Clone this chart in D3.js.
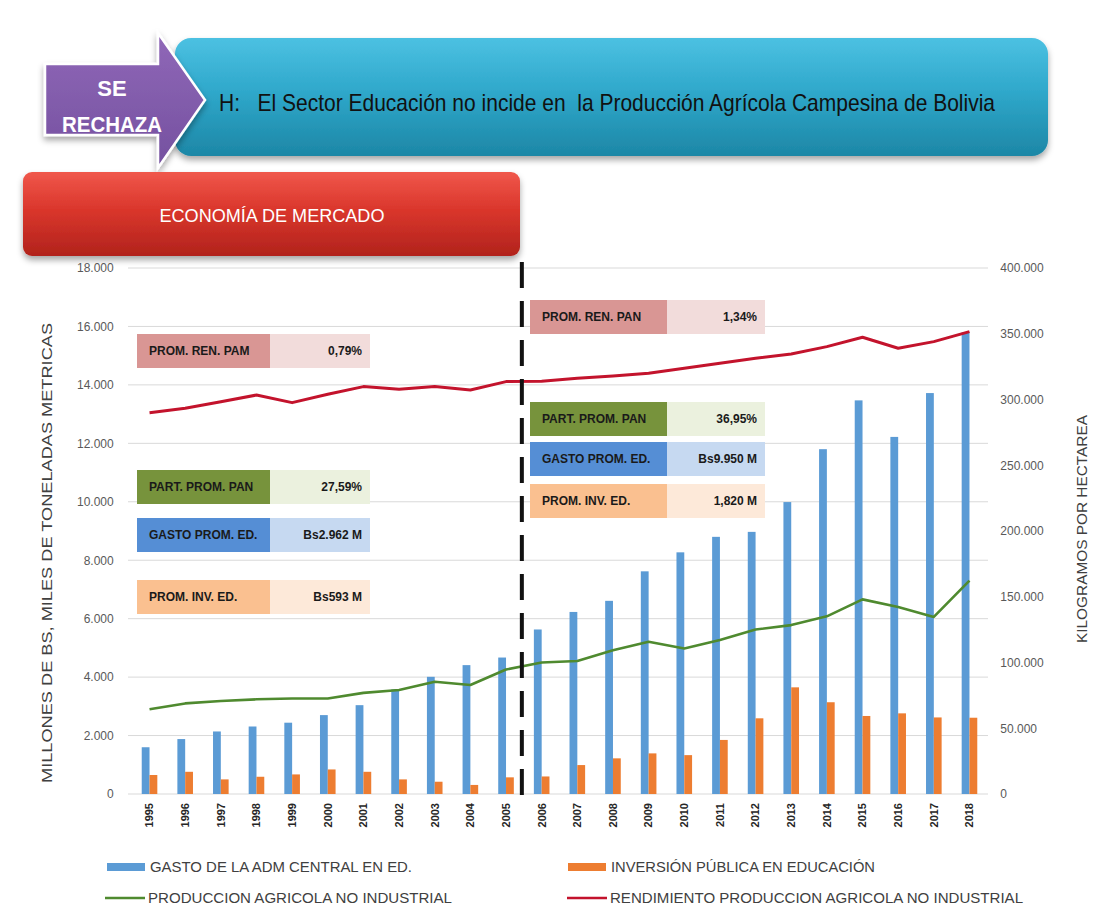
<!DOCTYPE html>
<html>
<head>
<meta charset="utf-8">
<script src="https://cdn.jsdelivr.net/npm/d3@7"></script>
<style>
  html, body { margin: 0; padding: 0; background: #ffffff; }
  svg { display: block; }
</style>
</head>
<body>
<svg id="chart" width="1107" height="918"></svg>
<script>
// ---------------- DATA ----------------
const years = ["1995","1996","1997","1998","1999","2000","2001","2002","2003","2004","2005","2006",
               "2007","2008","2009","2010","2011","2012","2013","2014","2015","2016","2017","2018"];
// Millones de Bs (eje izquierdo)
const gastoEducacion = [1600,1880,2140,2310,2440,2700,3040,3580,4010,4410,4670,5630,
                        6230,6610,7620,8270,8800,8970,9990,11800,13470,12220,13720,15800];
const inversionEducacion = [650,760,500,590,670,840,760,500,420,310,570,600,
                            990,1220,1390,1330,1850,2590,3650,3140,2670,2760,2620,2610];
// Miles de toneladas métricas (eje izquierdo)
const produccionAgricola = [2900,3100,3180,3240,3270,3270,3460,3560,3840,3730,4260,4500,
                            4550,4920,5210,4980,5270,5630,5780,6080,6660,6400,6060,7300];
// Kilogramos por hectárea (eje derecho)
const rendimientoAgricola = [290000,293300,298300,303400,297600,304000,309800,307800,309800,307200,313600,313800,
                             316100,317900,319900,323700,327500,331300,334600,340200,347300,339000,344000,351600];

const leftTicks = [0,2000,4000,6000,8000,10000,12000,14000,16000,18000];
const rightTicks = [0,50000,100000,150000,200000,250000,300000,350000,400000];

const seriesNames = ["GASTO DE LA ADM CENTRAL EN ED.", "INVERSIÓN PÚBLICA EN EDUCACIÓN",
                     "PRODUCCION AGRICOLA NO INDUSTRIAL", "RENDIMIENTO PRODUCCION AGRICOLA NO INDUSTRIAL"];

const statLabelsLeft  = ["PROM. REN. PAM", "PART. PROM. PAN", "GASTO PROM. ED.", "PROM. INV. ED."];
const statValuesLeft  = ["0,79%", "27,59%", "Bs2.962 M", "Bs593 M"];
const statLabelsRight = ["PROM. REN. PAN", "PART. PROM. PAN", "GASTO PROM. ED.", "PROM. INV. ED."];
const statValuesRight = ["1,34%", "36,95%", "Bs9.950 M", "1,820 M"];

const titleText = "H:   El Sector Educación no incide en  la Producción Agrícola Campesina de Bolivia";
const verdictLines = ["SE", "RECHAZA"];
const periodText = "ECONOMÍA DE MERCADO";
const leftAxisTitle = "MILLONES DE BS, MILES DE TONELADAS METRICAS";
const rightAxisTitle = "KILOGRAMOS POR HECTAREA";

// ---------------- STYLE ----------------
const C = {
  blue: "#5b9bd5", orange: "#ed7d31", green: "#4f8a2f", red: "#c3132c",
  grid: "#d9d9d9", tick: "#595959", axisTitle: "#404040"
};
const statColors = [
  { lab: "#d99694", val: "#f2dcdb" },
  { lab: "#77933c", val: "#ebf1de" },
  { lab: "#558ed5", val: "#c6d9f1" },
  { lab: "#fac090", val: "#fde9d9" }
];
const narrow = "'Liberation Sans Narrow', 'Liberation Sans', Arial, sans-serif";
const sans = "'Liberation Sans', Arial, sans-serif";

const svg = d3.select("#chart");
const defs = svg.append("defs");

function vGrad(id, stops) {
  const g = defs.append("linearGradient").attr("id", id).attr("x1", 0).attr("y1", 0).attr("x2", 0).attr("y2", 1);
  stops.forEach(s => g.append("stop").attr("offset", s[0]).attr("stop-color", s[1]));
}
vGrad("gCyan", [["0%", "#4cc1e2"], ["45%", "#2fa8cb"], ["100%", "#1d87a6"]]);
vGrad("gRed", [["0%", "#f0574b"], ["45%", "#da362c"], ["100%", "#b1231c"]]);
vGrad("gPurple", [["0%", "#9068b8"], ["100%", "#74509f"]]);

const shadow = defs.append("filter").attr("id", "shadow").attr("x", "-5%").attr("y", "-20%").attr("width", "110%").attr("height", "150%");
shadow.append("feDropShadow").attr("dx", 0).attr("dy", 4).attr("stdDeviation", 3).attr("flood-color", "#000").attr("flood-opacity", 0.35);

// ---------------- HEADER ----------------
svg.append("rect").attr("x", 175).attr("y", 38).attr("width", 873).attr("height", 118)
  .attr("rx", 16).attr("fill", "url(#gCyan)").attr("filter", "url(#shadow)");
svg.append("text").attr("x", 219).attr("y", 111)
  .attr("xml:space", "preserve").style("white-space", "pre")
  .attr("font-family", narrow).attr("font-size", 24).attr("fill", "#111")
  .attr("textLength", 776).attr("lengthAdjust", "spacingAndGlyphs")
  .text(titleText);

svg.append("path")
  .attr("d", "M45,64 L158,64 L158,33 L205,100 L158,168 L158,135 L45,135 Z")
  .attr("fill", "url(#gPurple)").attr("stroke", "#ffffff").attr("stroke-width", 2.5)
  .attr("filter", "url(#shadow)");
svg.selectAll("text.verdict").data(verdictLines).join("text").attr("class", "verdict")
  .attr("x", 112).attr("y", (d, i) => 96 + i * 36)
  .attr("text-anchor", "middle").attr("font-family", narrow).attr("font-weight", "bold")
  .attr("font-size", 22).attr("fill", "#ffffff")
  .each(function (d) { if (d.length > 3) d3.select(this).attr("textLength", 100).attr("lengthAdjust", "spacingAndGlyphs"); })
  .text(d => d);

svg.append("rect").attr("x", 23).attr("y", 172).attr("width", 497).attr("height", 84)
  .attr("rx", 9).attr("fill", "url(#gRed)").attr("filter", "url(#shadow)");
svg.append("text").attr("x", 272).attr("y", 222).attr("text-anchor", "middle")
  .attr("font-family", narrow).attr("font-size", 19).attr("fill", "#ffffff")
  .attr("textLength", 225).attr("lengthAdjust", "spacingAndGlyphs")
  .text(periodText);

// ---------------- SCALES ----------------
const x = d3.scaleBand().domain(years).range([131.7, 987.3]).paddingInner(0).paddingOuter(0);
const yL = d3.scaleLinear().domain([0, 18000]).range([794, 268]);
const yR = d3.scaleLinear().domain([0, 400000]).range([794, 268]);
const cx = d => x(d) + x.bandwidth() / 2;
const barW = 7.8;

const loc = d3.formatLocale({ decimal: ",", thousands: ".", grouping: [3], currency: ["", ""] });
const fmt = loc.format(",.0f");

// gridlines
svg.append("g").selectAll("line").data(leftTicks).join("line")
  .attr("x1", 128).attr("x2", 988).attr("y1", d => yL(d)).attr("y2", d => yL(d))
  .attr("stroke", C.grid).attr("stroke-width", 1);

// axes
const gL = svg.append("g").attr("transform", "translate(131.7,0)")
  .call(d3.axisLeft(yL).tickValues(leftTicks).tickFormat(fmt).tickSize(0).tickPadding(18));
gL.select(".domain").remove();
gL.selectAll("text").attr("font-family", sans).attr("font-size", 12).attr("fill", C.tick);

const gR = svg.append("g").attr("transform", "translate(987.3,0)")
  .call(d3.axisRight(yR).tickValues(rightTicks).tickFormat(fmt).tickSize(0).tickPadding(13));
gR.select(".domain").remove();
gR.selectAll("text").attr("font-family", sans).attr("font-size", 12).attr("fill", C.tick);

const gX = svg.append("g").attr("transform", "translate(0,794)")
  .call(d3.axisBottom(x).tickSize(0).tickPadding(0));
gX.select(".domain").remove();
gX.selectAll("text")
  .attr("transform", "rotate(-90)")
  .attr("x", -9).attr("y", 0).attr("dy", "0.35em")
  .attr("text-anchor", "end")
  .attr("font-family", sans).attr("font-weight", "bold").attr("font-size", 11).attr("fill", "#262626");

// axis titles
svg.append("text").attr("transform", "translate(52,553) rotate(-90)").attr("text-anchor", "middle")
  .attr("font-family", sans).attr("font-size", 14).attr("fill", C.axisTitle)
  .attr("textLength", 460).attr("lengthAdjust", "spacingAndGlyphs").text(leftAxisTitle);
svg.append("text").attr("transform", "translate(1087,529) rotate(-90)").attr("text-anchor", "middle")
  .attr("font-family", sans).attr("font-size", 14).attr("fill", C.axisTitle)
  .attr("textLength", 228).attr("lengthAdjust", "spacingAndGlyphs").text(rightAxisTitle);

// ---------------- BARS ----------------
svg.append("g").selectAll("rect").data(years).join("rect")
  .attr("x", (d) => cx(d) - barW).attr("width", barW)
  .attr("y", (d, i) => yL(gastoEducacion[i])).attr("height", (d, i) => yL(0) - yL(gastoEducacion[i]))
  .attr("fill", C.blue);
svg.append("g").selectAll("rect").data(years).join("rect")
  .attr("x", (d) => cx(d)).attr("width", barW)
  .attr("y", (d, i) => yL(inversionEducacion[i])).attr("height", (d, i) => yL(0) - yL(inversionEducacion[i]))
  .attr("fill", C.orange);

// ---------------- LINES ----------------
const lineL = d3.line().x((d, i) => cx(years[i])).y(d => yL(d));
const lineR = d3.line().x((d, i) => cx(years[i])).y(d => yR(d));
svg.append("path").datum(produccionAgricola).attr("d", lineL)
  .attr("fill", "none").attr("stroke", C.green).attr("stroke-width", 2.6).attr("stroke-linejoin", "round");
svg.append("path").datum(rendimientoAgricola).attr("d", lineR)
  .attr("fill", "none").attr("stroke", C.red).attr("stroke-width", 3).attr("stroke-linejoin", "round");

// period divider (between 2005 and 2006)
const divX = x("2006") - 2;
svg.append("line").attr("x1", divX).attr("x2", divX).attr("y1", 262).attr("y2", 796)
  .attr("stroke", "#111").attr("stroke-width", 4).attr("stroke-dasharray", "26,13");

// ---------------- STAT BOXES ----------------
function statBoxes(x0, labW, valW, ys, labels, values) {
  const g = svg.append("g");
  labels.forEach((lab, i) => {
    const y0 = ys[i], h = 34;
    g.append("rect").attr("x", x0).attr("y", y0).attr("width", labW).attr("height", h).attr("fill", statColors[i].lab);
    g.append("rect").attr("x", x0 + labW).attr("y", y0).attr("width", valW).attr("height", h).attr("fill", statColors[i].val);
    g.append("text").attr("x", x0 + 12).attr("y", y0 + h / 2).attr("dy", "0.35em")
      .attr("font-family", narrow).attr("font-weight", "bold").attr("font-size", 12).attr("fill", "#1a1a1a").text(lab);
    g.append("text").attr("x", x0 + labW + valW - 8).attr("y", y0 + h / 2).attr("dy", "0.35em")
      .attr("text-anchor", "end")
      .attr("font-family", narrow).attr("font-weight", "bold").attr("font-size", 12).attr("fill", "#1a1a1a").text(values[i]);
  });
}
statBoxes(137, 133, 100, [334, 470, 518, 580], statLabelsLeft, statValuesLeft);
statBoxes(530, 137, 98, [300, 402, 442, 484], statLabelsRight, statValuesRight);

// ---------------- LEGEND ----------------
const legendItems = [
  { name: seriesNames[0], type: "bar", color: C.blue, x: 107, y: 867, w: 262 },
  { name: seriesNames[1], type: "bar", color: C.orange, x: 568, y: 867, w: 264 },
  { name: seriesNames[2], type: "line", color: C.green, x: 105, y: 898, w: 304 },
  { name: seriesNames[3], type: "line", color: C.red, x: 567, y: 898, w: 413 }
];
const lg = svg.append("g").selectAll("g").data(legendItems).join("g")
  .attr("transform", d => `translate(${d.x},${d.y})`);
lg.filter(d => d.type === "bar").append("rect").attr("x", 0).attr("y", -4).attr("width", 38).attr("height", 8).attr("fill", d => d.color);
lg.filter(d => d.type === "line").append("line").attr("x1", 0).attr("x2", 40).attr("y1", 0).attr("y2", 0)
  .attr("stroke", d => d.color).attr("stroke-width", 2.6);
lg.append("text").attr("x", 43).attr("y", 0).attr("dy", "0.35em")
  .attr("font-family", sans).attr("font-size", 14).attr("fill", C.axisTitle)
  .attr("textLength", d => d.w).attr("lengthAdjust", "spacingAndGlyphs").text(d => d.name);
</script>
</body>
</html>
